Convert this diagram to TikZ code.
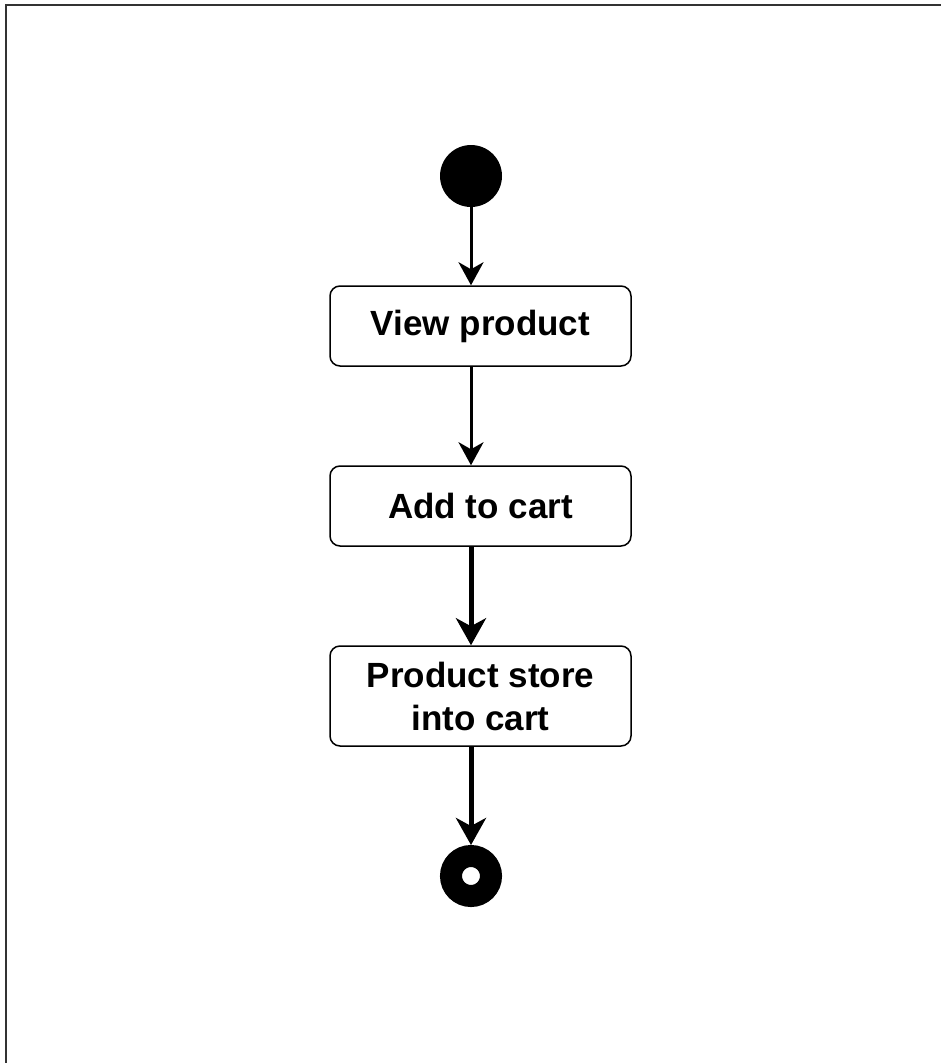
\documentclass[tikz,border=0pt]{standalone}
\usepackage{fontspec}
\setmainfont{Liberation Sans}
\usetikzlibrary{arrows.meta}

\begin{document}
\begin{tikzpicture}[x=1pt,y=-1pt,
  act/.style={draw, line width=1.5pt, rounded corners=10pt, minimum width=301pt, minimum height=80pt, inner sep=4pt, align=center, font=\fontsize{35}{43}\selectfont\bfseries},
  flow/.style={draw, line width=3pt, -{Stealth[length=23pt,width=25pt,inset=7pt]}},
  flowb/.style={draw, line width=5pt, -{Stealth[length=27pt,width=30pt,inset=8pt]}}]
\useasboundingbox (0,0) rectangle (940,1063);
\draw[line width=2pt, black!80] (6,5) rectangle (1000,1120);
% start and end
\node[circle, fill=black, minimum size=62pt, inner sep=0] (start) at (471,176) {};
\node[circle, draw=black, fill=white, line width=22pt, minimum size=40pt, inner sep=0] (stop) at (471,876) {};
% activities
\node[act] (view) at (480.5,326) {View product};
\node[act] (add) at (480.5,506) {Add to cart};
\node[act, minimum height=100pt] (store) at (480.5,696) {Product store\\into cart};
% flows
\draw[flow] (start) -- (start |- view.north);
\draw[flow] (view.south -| start) -- (add.north -| start);
\draw[flowb] (add.south -| start) -- (store.north -| start);
\draw[flowb] (store.south -| start) -- (stop);
\end{tikzpicture}
\end{document}
